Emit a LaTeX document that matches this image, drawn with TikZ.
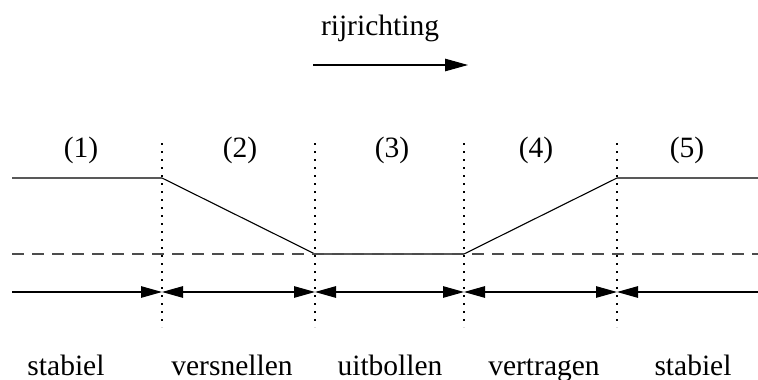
\documentclass[tikz,border=0pt]{standalone}
\usepackage{fontspec}
\setmainfont{Liberation Serif}
\usetikzlibrary{arrows.meta}
\tikzset{
  lbl/.style={inner sep=0pt, anchor=base, font=\fontsize{29.5}{34}\selectfont},
  profile/.style={line width=1.1pt, line join=miter},
  boundary/.style={line width=1.4pt, dash pattern=on 1.6pt off 6.4pt},
  refline/.style={line width=1.2pt, black!70, dash pattern=on 12pt off 8pt},
  span/.style={line width=1.1pt},
  phasetip/.tip={Triangle[length=21pt, width=11.5pt]},
  dirtip/.tip={Triangle[length=23pt, width=12.5pt]},
}
\begin{document}
\begin{tikzpicture}[x=1pt, y=-1pt]
  \useasboundingbox (0,0) rectangle (758,380);

  % driving direction
  \node[lbl] (dir) at (380,35) {rijrichting};
  \coordinate (d0) at (313,65);
  \coordinate (d1) at (468,65);
  \draw[span, -{dirtip}] (d0) -- (d1);

  % phase boundaries
  \foreach \n/\x in {1/162, 2/315, 3/464, 4/617} {
    \coordinate (t\n) at (\x,143);
    \coordinate (b\n) at (\x,327);
    \coordinate (m\n) at (\x,292);
    \draw[boundary] (t\n) -- (b\n);
  }

  % speed profile
  \coordinate (p0) at (12,178);
  \coordinate (p1) at (162,178);
  \coordinate (p2) at (315,254);
  \coordinate (p3) at (464,254);
  \coordinate (p4) at (617,178);
  \coordinate (p5) at (758,178);
  \draw[profile] (p0) -- (p1) -- (p2) -- (p3) -- (p4) -- (p5);

  % reference level
  \coordinate (r0) at (12,254);
  \coordinate (r1) at (758,254);
  \draw[refline] (r0) -- (r1);

  % phase extents
  \coordinate (m0) at (12,292);
  \coordinate (m5) at (758,292);
  \draw[span, -{phasetip}] (m0) -- (m1);
  \draw[span, {phasetip}-{phasetip}] (m1) -- (m2);
  \draw[span, {phasetip}-{phasetip}] (m2) -- (m3);
  \draw[span, {phasetip}-{phasetip}] (m3) -- (m4);
  \draw[span, {phasetip}-] (m4) -- (m5);

  % phase numbers
  \node[lbl] (n1) at (81,157) {(1)};
  \node[lbl] (n2) at (240,157) {(2)};
  \node[lbl] (n3) at (392,157) {(3)};
  \node[lbl] (n4) at (536,157) {(4)};
  \node[lbl] (n5) at (687,157) {(5)};

  % phase names
  \node[lbl] (s1) at (66,375) {stabiel};
  \node[lbl] (s2) at (232,375) {versnellen};
  \node[lbl] (s3) at (390,375) {uitbollen};
  \node[lbl] (s4) at (544,375) {vertragen};
  \node[lbl] (s5) at (693,375) {stabiel};
\end{tikzpicture}
\end{document}
